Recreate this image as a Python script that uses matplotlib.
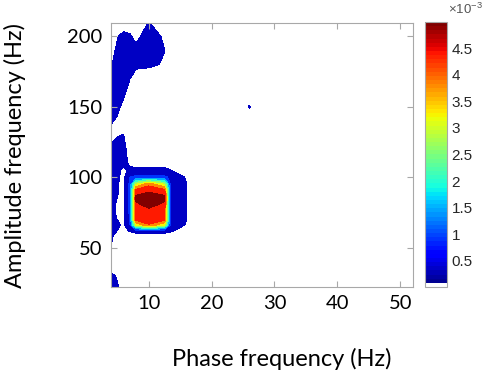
import numpy as np
import matplotlib
matplotlib.use('Agg')
import matplotlib.pyplot as plt
from matplotlib.colors import ListedColormap, Normalize
from matplotlib.cm import ScalarMappable

plt.rcParams['font.family'] = ['Lato', 'DejaVu Sans']
plt.rcParams['mathtext.fontset'] = 'custom'
plt.rcParams['mathtext.rm'] = 'Liberation Sans'
plt.rcParams['mathtext.default'] = 'regular'

# phase frequencies (Hz): left block holds the coupling, the rest is zero
phase_left = [4, 5, 6, 7, 8, 10, 12.5, 13.5, 16, 18]
phase_rest = [20, 22, 24, 26, 28, 30, 32, 34, 36, 38, 40, 42, 44, 46, 48, 50, 52]
# amplitude frequencies (Hz), top row first
amp_hz = [210, 200, 190, 180, 170, 160, 150, 140, 130, 120, 110, 105, 100,
          95, 90, 85, 80, 75, 70, 66, 62, 58, 50, 40, 30, 20]
# modulation index (x1e-3), rows follow amp_hz, columns follow phase_left
pac_left = [
    [0.00, 0.10, 0.10, 0.10, 0.00, 0.52, 0.15, 0.00, 0.00, 0.00],
    [0.20, 0.45, 0.70, 0.60, 0.30, 0.85, 0.40, 0.10, 0.00, 0.00],
    [0.30, 0.60, 0.80, 0.75, 0.70, 0.95, 0.52, 0.25, 0.00, 0.00],
    [0.45, 0.70, 0.80, 0.75, 0.65, 0.65, 0.42, 0.00, 0.00, 0.00],
    [0.80, 0.90, 0.80, 0.52, 0.20, 0.00, 0.00, 0.00, 0.00, 0.00],
    [0.90, 0.90, 0.60, 0.30, 0.00, 0.00, 0.00, 0.00, 0.00, 0.00],
    [0.80, 0.60, 0.40, 0.10, 0.00, 0.00, 0.00, 0.00, 0.00, 0.00],
    [0.55, 0.45, 0.20, 0.00, 0.00, 0.00, 0.00, 0.00, 0.00, 0.00],
    [0.35, 0.45, 0.52, 0.20, 0.00, 0.00, 0.00, 0.00, 0.00, 0.00],
    [0.60, 0.80, 0.65, 0.30, 0.00, 0.00, 0.00, 0.00, 0.00, 0.00],
    [0.70, 0.80, 0.70, 0.40, 0.30, 0.30, 0.30, 0.25, 0.10, 0.00],
    [0.60, 0.70, 0.35, 0.60, 0.63, 0.65, 0.63, 0.50, 0.20, 0.00],
    [0.60, 0.60, 0.35, 1.00, 1.10, 1.10, 1.10, 0.90, 0.45, 0.00],
    [0.60, 0.55, 0.35, 1.10, 3.00, 3.85, 3.00, 0.95, 0.52, 0.00],
    [0.60, 0.55, 0.35, 1.10, 4.35, 4.45, 4.35, 0.95, 0.52, 0.00],
    [0.60, 0.50, 0.35, 1.10, 4.60, 4.85, 4.60, 0.95, 0.52, 0.00],
    [0.60, 0.45, 0.35, 1.10, 4.40, 4.60, 4.40, 0.95, 0.52, 0.00],
    [0.60, 0.45, 0.35, 1.10, 4.30, 4.35, 4.30, 0.95, 0.52, 0.00],
    [0.60, 0.50, 0.35, 1.00, 4.20, 4.25, 4.20, 0.90, 0.52, 0.00],
    [0.60, 0.60, 0.40, 0.90, 3.00, 3.95, 3.00, 0.90, 0.45, 0.00],
    [0.60, 0.50, 0.30, 0.55, 0.75, 0.80, 0.75, 0.60, 0.20, 0.00],
    [0.55, 0.40, 0.20, 0.20, 0.20, 0.20, 0.20, 0.15, 0.00, 0.00],
    [0.50, 0.20, 0.00, 0.00, 0.00, 0.00, 0.00, 0.00, 0.00, 0.00],
    [0.20, 0.00, 0.00, 0.00, 0.00, 0.00, 0.00, 0.00, 0.00, 0.00],
    [0.60, 0.45, 0.00, 0.00, 0.00, 0.00, 0.00, 0.00, 0.00, 0.00],
    [0.80, 0.60, 0.30, 0.00, 0.00, 0.00, 0.00, 0.00, 0.00, 0.00],
]
# isolated spot
dot_phase, dot_amp, dot_val = 26, 150, 0.55

levels = [0, 0.5, 1.0, 1.5, 2.0, 2.5, 3.0, 3.5, 4.0, 4.5, 5.0]
cbar_ticks = [0.5, 1, 1.5, 2, 2.5, 3, 3.5, 4, 4.5]
cmax = 5.0

phase = np.array(phase_left + phase_rest, dtype=float)
amp = np.array(amp_hz, dtype=float)
Z = np.zeros((len(amp), len(phase)))
Z[:, :len(phase_left)] = np.array(pac_left)
Z[amp_hz.index(dot_amp), list(phase).index(dot_phase)] = dot_val

# jet with the lowest entry white for the colorbar
jet = plt.get_cmap('jet', 64)(np.arange(64))
jet[0] = [1, 1, 1, 1]
cmap = ListedColormap(jet)

# filled bands: lowest band white, the others spread over the jet map
fill_colors = ['white'] + [plt.get_cmap('jet')(min((l - 0.25) / 4.25, 1.0))
                           for l in levels[1:-1]]

fig = plt.figure(figsize=(4.84, 3.74), dpi=100)
ax = fig.add_axes([0.229, 0.2326, 0.624, 0.7059])
ax.contourf(phase, amp, Z, levels=levels, colors=fill_colors)

ax.set_xlim(4, 52)
ax.set_ylim(22, 209.5)
ax.set_xticks([10, 20, 30, 40, 50])
ax.set_yticks([50, 100, 150, 200])
ax.tick_params(direction='in', length=4, top=True, right=True,
               color='#a8a8a8', labelsize=14.5, pad=6)
for s in ax.spines.values():
    s.set_color('#a8a8a8')
    s.set_linewidth(0.8)

cax = fig.add_axes([0.878, 0.2326, 0.046, 0.7086])
sm = ScalarMappable(norm=Normalize(0, cmax), cmap=cmap)
cb = fig.colorbar(sm, cax=cax, ticks=cbar_ticks)
cb.ax.set_yticklabels([('%g' % t) for t in cbar_ticks],
                      family='Liberation Sans', fontsize=11, color='#262626')
cb.ax.tick_params(length=0, pad=3)
cb.outline.set_edgecolor('#a8a8a8')
cb.outline.set_linewidth(0.8)
fig.text(0.997, 0.975, r'$\times10^{-3}$', fontsize=9.5, color='#555555',
         family='Liberation Sans', ha='right', va='center')

fig.text(0.583, 0.04, 'Phase frequency (Hz)', fontsize=17, ha='center', va='center')
fig.text(0.031, 0.585, 'Amplitude frequency (Hz)', fontsize=17, ha='center',
         va='center', rotation=90)

fig.savefig('out.png', dpi=100)
